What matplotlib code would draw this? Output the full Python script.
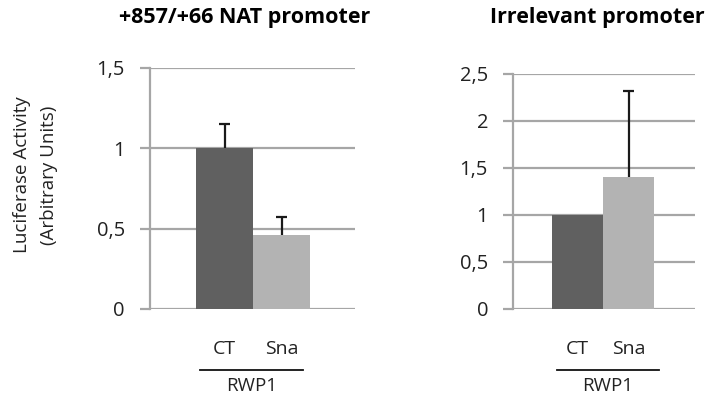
import matplotlib.pyplot as plt
import matplotlib.transforms as mtransforms

plt.rcParams['font.family'] = ['Open Sans', 'DejaVu Sans']

groups = ['CT', 'Sna']
nat_values = [1.0, 0.46]
nat_err = [0.15, 0.11]
irr_values = [1.0, 1.4]
irr_err = [0.0, 0.92]
bar_colors = ['#606060', '#b3b3b3']
grid_c = '#a6a6a6'

fig = plt.figure(figsize=(7.09, 3.98), dpi=100)
ax1 = fig.add_axes([150/709, 1-309/398, 205/709, 241/398])
ax2 = fig.add_axes([513/709, 1-309/398, 182/709, 235/398])


def panel(ax, vals, errs, ymax, yticks, yticklabels, xlim, line_x, title, title_x):
    x = [0, 1]
    ax.bar(x, vals, width=1.0, color=bar_colors, zorder=3)
    # upper error bars only (vertical line + top cap)
    for xi, v, e in zip(x, vals, errs):
        if e > 0:
            ax.vlines(xi, v, v + e, color='#1a1a1a', linewidth=1.6, zorder=4)
            ax.hlines(v + e, xi - 0.1, xi + 0.1, color='#1a1a1a', linewidth=1.6, zorder=4)
    ax.set_ylim(0, ymax)
    ax.set_xlim(*xlim)
    ax.set_yticks(yticks)
    ax.set_yticklabels(yticklabels, fontsize=14.5, color='#222222')
    ax.yaxis.grid(True, color=grid_c, linewidth=1.6, zorder=0)
    ax.set_axisbelow(True)
    for s in ['top', 'right', 'bottom']:
        ax.spines[s].set_visible(False)
    ax.spines['left'].set_color(grid_c)
    ax.spines['left'].set_linewidth(1.6)
    ax.tick_params(axis='y', length=7, width=1.6, color=grid_c, pad=11)
    ax.set_xticks(x)
    ax.set_xticklabels(groups, fontsize=14, color='#222222')
    ax.tick_params(axis='x', length=0, pad=22)
    trans = mtransforms.blended_transform_factory(ax.transData, fig.transFigure)
    ax.plot(line_x, [1-370/398, 1-370/398], color='#111111', linewidth=1.3,
            transform=trans, clip_on=False)
    ax.text(sum(line_x)/2, 1-386/398, 'RWP1', transform=trans, ha='center',
            va='center', fontsize=13.5, color='#222222')
    fig.text(title_x, 1-17/398, title, ha='center', va='center',
             fontsize=15.5, fontweight='bold')


panel(ax1, nat_values, nat_err, 1.5, [0, 0.5, 1, 1.5], ['0', '0,5', '1', '1,5'],
      (-1.307, 2.289), [-0.43, 1.38], '+857/+66 NAT promoter', 245/709)
panel(ax2, irr_values, irr_err, 2.5, [0, 0.5, 1, 1.5, 2, 2.5],
      ['0', '0,5', '1', '1,5', '2', '2,5'],
      (-1.265, 2.304), [-0.40, 1.59], 'Irrelevant promoter', 597/709)

fig.text(0.05, 1-175/398, 'Luciferase Activity\n(Arbitrary Units)', rotation=90,
         ha='center', va='center', fontsize=13.5, color='#222222', linespacing=1.6)

fig.savefig('out.png', dpi=100)
